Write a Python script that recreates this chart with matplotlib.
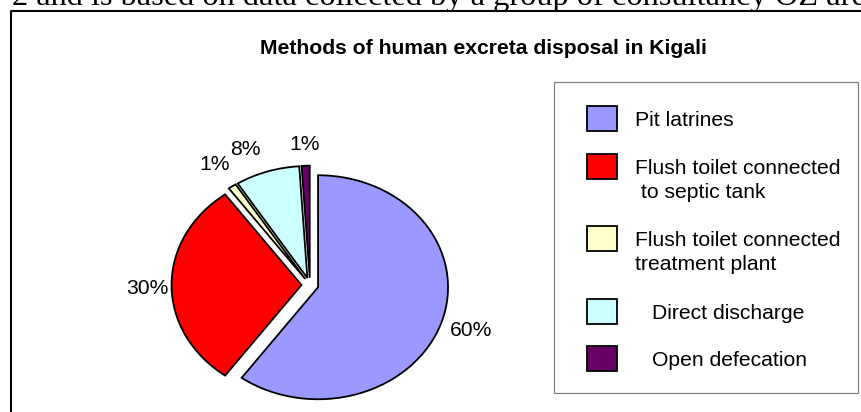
import matplotlib.pyplot as plt
from matplotlib.patches import Rectangle

plt.rcParams['font.family'] = ['Liberation Sans', 'DejaVu Sans']

title = 'Methods of human excreta disposal in Kigali'
labels = ['Pit latrines',
          'Flush toilet connected\n to septic tank',
          'Flush toilet connected\ntreatment plant',
          'Direct discharge',
          'Open defecation']
shares = [60, 30, 1, 8, 1]
colors = ['#9999FF', '#FF0000', '#FFFFCC', '#CCFFFF', '#660066']

W, H = 861, 412
fig = plt.figure(figsize=(W / 100, H / 100), dpi=100)

# background axes in pixel units (y grows downwards)
bg = fig.add_axes([0, 0, 1, 1])
bg.set_xlim(0, W)
bg.set_ylim(H, 0)
bg.axis('off')

# line of body text cut off above the chart
bg.text(12, 5, '2 and is based on data collected by a group of consultancy OZ are',
        family='Liberation Serif', fontsize=23.3, va='baseline', ha='left')

# chart frame, running off the right and bottom edges
bg.plot([11, 11, W + 5], [H + 5, 11, 11], color='black', lw=1.5, clip_on=False)

bg.text(483, 54, title, fontsize=15.2, fontweight='bold', ha='center', va='baseline')

# legend
bg.add_patch(Rectangle((554, 82), 304, 311, fill=False, edgecolor='#808080', lw=0.9))
square_y = [106, 154, 226, 299, 346]
text_x = [635, 635, 635, 652, 652]
for i, (lab, col) in enumerate(zip(labels, colors)):
    bg.add_patch(Rectangle((587, square_y[i]), 30, 25, facecolor=col,
                           edgecolor='black', lw=1.3))
    for j, line in enumerate(lab.split('\n')):
        bg.text(text_x[i], square_y[i] + 20 + 24 * j, line, fontsize=15.2,
                ha='left', va='baseline')

# pie: centre at (310, 285) px, radii 130 x 112 px
cx, cy, rx, ry = 310, 285, 130, 112
x0, x1 = -1.6, 1.6
y0, y1 = -1.1, 1.6
ax = fig.add_axes([(cx + x0 * rx) / W, (H - cy + y0 * ry) / H,
                   (x1 - x0) * rx / W, (y1 - y0) * ry / H])
wedges, texts, autotexts = ax.pie(
    shares, colors=colors, startangle=90, counterclock=False,
    explode=[0.065] * len(shares), autopct='%1.0f%%', pctdistance=1.24,
    wedgeprops=dict(edgecolor='black', linewidth=1.3),
    textprops=dict(fontsize=15.2))
ax.set_aspect('auto')
ax.set_xlim(x0, x1)
ax.set_ylim(y0, y1)
ax.axis('off')

# small nudges of the outside labels (pixels: right, down)
nudges = [(0, 0), (7, 4), (0, 0), (-12, 4), (0, 6)]
for t, (dx, dy) in zip(autotexts, nudges):
    x, y = t.get_position()
    t.set_position((x + dx / rx, y - dy / ry))

fig.savefig('out.png', dpi=100)
